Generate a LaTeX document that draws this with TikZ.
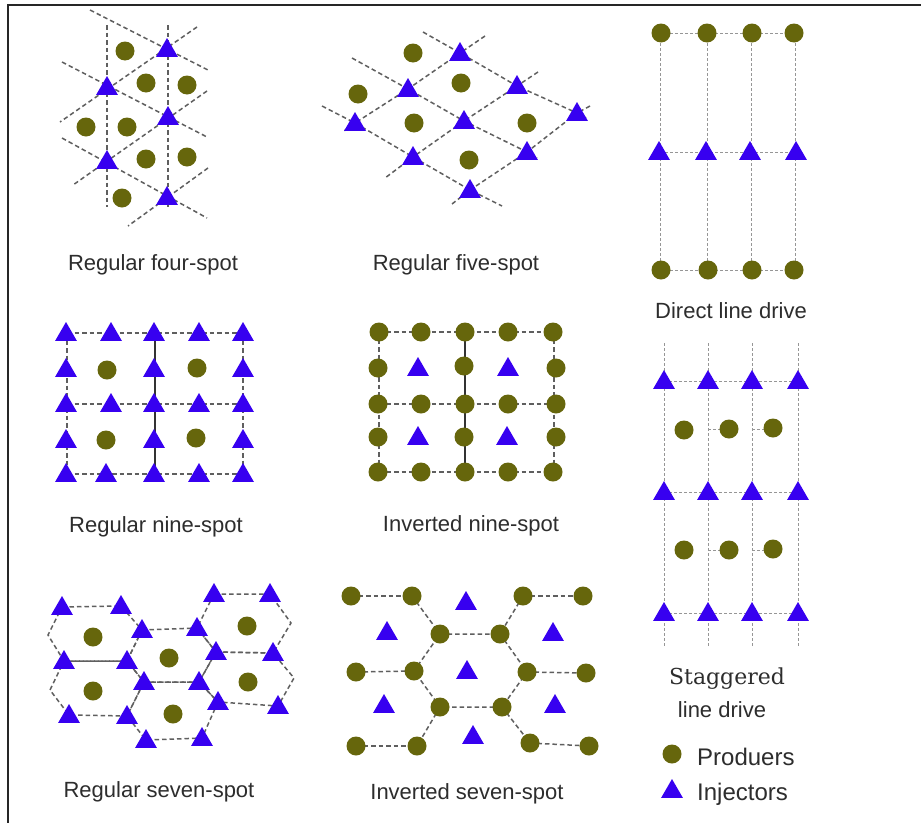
\documentclass[tikz,border=0pt]{standalone}
\usepackage{fontspec}
\setmainfont{Liberation Sans}
\newfontfamily\stagfont{DejaVu Serif}
\usetikzlibrary{shapes.geometric}
\definecolor{prodc}{RGB}{102,102,12}
\definecolor{injc}{RGB}{55,0,240}
\definecolor{linec}{RGB}{95,95,95}
\definecolor{thinc}{RGB}{150,150,150}
\definecolor{txtc}{RGB}{45,45,45}
\begin{document}
\begin{tikzpicture}[x=1pt,y=-1pt,
  prod/.style={circle,fill=prodc,minimum size=19pt,inner sep=0pt},
  inj/.style={regular polygon,regular polygon sides=3,fill=injc,minimum size=25pt,inner sep=0pt,yshift=-1.5pt},
  dl/.style={dash pattern=on 4.5pt off 3pt,line width=1.5pt,draw=linec},
  tl/.style={dash pattern=on 3pt off 2pt,line width=0.9pt,draw=thinc},
  sl/.style={line width=1.1pt,draw=black!80},
  lbl/.style={font=\fontsize{22}{26}\selectfont,text=txtc,anchor=base,inner sep=0pt},
  leg/.style={font=\fontsize{24}{28}\selectfont,text=txtc,anchor=base west,inner sep=0pt}]
\useasboundingbox (0,0) rectangle (921,822);
\fill[white] (0,0) rectangle (921,822);
\draw[line width=2pt,black!85] (8,823) -- (8,5) -- (922,5);

% ---------------- Regular four-spot
\draw[dl] (107,25)--(107,207);
\draw[dl] (168,25)--(168,207);
\draw[dl] (90,10)--(208,70);
\draw[dl] (62,62)--(207,137);
\draw[dl] (62,138)--(207,218);
\draw[dl] (197,27)--(60,122);
\draw[dl] (207,91)--(73,185);
\draw[dl] (208,168)--(128,226);
\foreach[count=\i] \x/\y in {167/49,107/87,168/117,107/161,167/197}
  \node[inj] (fa\i) at (\x,\y) {};
\foreach[count=\i] \x/\y in {125/51,146/83,187/85,86/127,127/127,146/159,187/157,122/198}
  \node[prod] (fp\i) at (\x,\y) {};
\node[lbl] (l1) at (153,270) {Regular four-spot};

% ---------------- Regular five-spot
\draw[dl] (423,32)--(460,53)--(517,86)--(577,113)--(588,119);
\draw[dl] (352,58)--(408,89)--(464,121)--(527,152)--(537,158);
\draw[dl] (322,106)--(355,123)--(413,157)--(470,190)--(502,206);
\draw[dl] (485,36)--(460,53)--(408,89)--(355,123)--(344,131);
\draw[dl] (538,72)--(517,86)--(464,121)--(413,157)--(385,178);
\draw[dl] (590,106)--(577,113)--(527,152)--(470,190)--(452,204);
\foreach[count=\i] \x/\y in {460/53,408/89,517/86,355/123,464/121,577/113,413/157,527/152,470/190}
  \node[inj] (va\i) at (\x,\y) {};
\foreach[count=\i] \x/\y in {413/53,358/94,461/83,414/123,527/123,469/160}
  \node[prod] (vp\i) at (\x,\y) {};
\node[lbl] (l2) at (456,270) {Regular five-spot};

% ---------------- Direct line drive
\foreach \x in {660,707,751,795} \draw[tl] (\x,33)--(\x,270);
\foreach \y in {33,152,270} \draw[tl] (660,\y)--(795,\y);
\foreach[count=\i] \x in {661,707,752,794} \node[prod] (dp\i) at (\x,33) {};
\foreach[count=\i] \x in {659,706,750,796} \node[inj] (dt\i) at (\x,152) {};
\foreach[count=\i] \x in {661,708,752,794} \node[prod] (dq\i) at (\x,270) {};
\node[lbl] (l3) at (731,318) {Direct line drive};

% ---------------- Regular nine-spot
\foreach \y in {333,404,474} \draw[dl] (67,\y)--(243,\y);
\draw[dl] (67,333)--(67,474);
\draw[dl] (243,333)--(243,474);
\draw[sl] (155,333)--(155,474);
\foreach[count=\i] \x/\y in {66/333,111/333,154/333,199/333,243/333,
  66/369,154/369,243/369,
  66/404,111/404,154/404,199/404,243/404,
  66/440,154/440,243/440,
  66/474,106/474,154/474,199/474,243/474}
  \node[inj] (nt\i) at (\x,\y) {};
\foreach[count=\i] \x/\y in {107/370,197/368,106/440,196/438}
  \node[prod] (np\i) at (\x,\y) {};
\node[lbl] (l4) at (156,532) {Regular nine-spot};

% ---------------- Inverted nine-spot
\foreach \y in {332,404,472} \draw[dl] (379,\y)--(554,\y);
\draw[dl] (379,332)--(379,472);
\draw[dl] (554,332)--(554,472);
\draw[sl] (465,332)--(465,472);
\foreach[count=\i] \x/\y in {379/332,421/332,465/332,508/332,553/332,
  378/368,464/366,556/368,
  378/404,421/404,465/404,508/404,556/404,
  378/437,464/437,556/437,
  378/472,421/472,465/472,508/472,553/472}
  \node[prod] (ip\i) at (\x,\y) {};
\foreach[count=\i] \x/\y in {418/368,508/368,418/437,507/437}
  \node[inj] (it\i) at (\x,\y) {};
\node[lbl] (l5) at (471,531) {Inverted nine-spot};

% ---------------- Staggered line drive
\foreach \x in {664,708,752,798} \draw[tl] (\x,343)--(\x,647);
\foreach \y in {381,492,613} \draw[tl] (664,\y)--(798,\y);
\foreach \y in {429,550} {\draw[tl] (708,\y)--(729,\y); \draw[tl] (752,\y)--(773,\y);}
\foreach[count=\i] \x/\y in {664/381,708/381,752/381,798/381,
  664/492,708/492,752/492,798/492,
  664/613,708/613,752/613,798/613}
  \node[inj] (st\i) at (\x,\y) {};
\foreach[count=\i] \x/\y in {684/430,729/429,773/428,684/550,729/550,773/549}
  \node[prod] (sp\i) at (\x,\y) {};
\node[font=\stagfont\fontsize{22}{26}\selectfont,text=txtc,anchor=base,inner sep=0pt] (l6a) at (727,684) {Staggered};
\node[lbl] (l6b) at (722,717) {line drive};

% ---------------- Regular seven-spot
\draw[dl] (62,607)--(121,606)--(142,630)--(127,661)--(64,661)--(48,635)--cycle;
\draw[dl] (64,661)--(127,661)--(144,682)--(127,716)--(69,715)--(50,690)--cycle;
\draw[dl] (142,630)--(197,628)--(216,652)--(199,682)--(144,682)--(127,661)--cycle;
\draw[dl] (144,682)--(199,682)--(218,702)--(202,738)--(146,740)--(127,716)--cycle;
\draw[dl] (214,594)--(270,594)--(291,623)--(273,653)--(216,652)--(197,628)--cycle;
\draw[dl] (216,652)--(273,653)--(294,678)--(278,706)--(218,702)--(199,682)--cycle;
\foreach[count=\i] \x/\y in {62/607,121/606,142/630,197/628,214/594,270/594,
  64/661,127/661,216/652,273/653,144/682,199/682,
  69/715,127/716,218/702,278/706,146/740,202/738}
  \node[inj] (rt\i) at (\x,\y) {};
\foreach[count=\i] \x/\y in {93/637,169/658,247/626,93/691,248/682,173/714}
  \node[prod] (rp\i) at (\x,\y) {};
\node[lbl] (l7) at (159,797) {Regular seven-spot};

% ---------------- Inverted seven-spot
\draw[dl] (351,596)--(412,596);
\draw[dl] (523,596)--(583,596);
\draw[dl] (356,672)--(414,671);
\draw[dl] (527,672)--(586,673);
\draw[dl] (356,746)--(417,746);
\draw[dl] (530,743)--(589,746);
\draw[dl] (412,596)--(440,634);
\draw[dl] (523,596)--(500,634);
\draw[dl] (440,707)--(417,746);
\draw[dl] (502,707)--(530,743);
\draw[dl] (440,634)--(500,634)--(527,672)--(502,707)--(440,707)--(414,671)--cycle;
\foreach[count=\i] \x/\y in {351/596,412/596,440/634,500/634,523/596,583/596,
  356/672,414/671,527/672,586/673,440/707,502/707,
  356/746,417/746,530/743,589/746}
  \node[prod] (vq\i) at (\x,\y) {};
\foreach[count=\i] \x/\y in {466/602,387/632,553/633,467/671,384/705,555/705,473/736}
  \node[inj] (vt\i) at (\x,\y) {};
\node[lbl] (l8) at (467,799) {Inverted seven-spot};

% ---------------- Legend
\node[prod] (kp) at (672,754) {};
\node[inj] (kt) at (672,790) {};
\node[leg] (kpl) at (697,765) {Produers};
\node[leg] (ktl) at (697,800) {Injectors};
\end{tikzpicture}
\end{document}
